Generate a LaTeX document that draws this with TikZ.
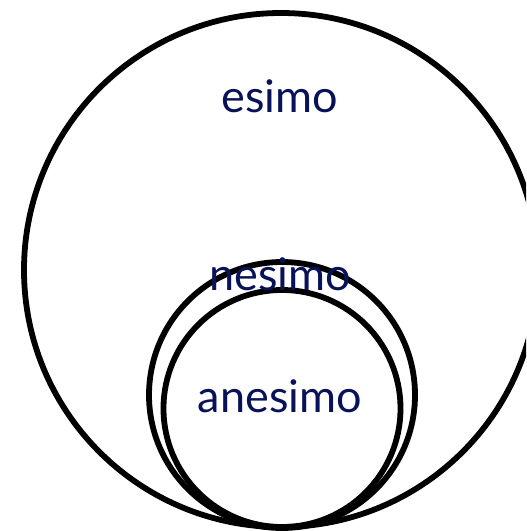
\documentclass[tikz,border=0pt]{standalone}
\usepackage{fontspec}
\setmainfont{Lato}
\definecolor{setnavy}{RGB}{8,18,88}
\begin{document}
\begin{tikzpicture}[x=0.5pt, y=-0.5pt,
    ring/.style={draw=black, line width=2.9pt},
    setlabel/.style={text=setnavy, font=\fontsize{22.5}{26}\selectfont, anchor=base, inner sep=0pt}]
    \useasboundingbox (0,0) rectangle (526,531);
    \clip (0,0) rectangle (526,531);

    % the three sets, all touching at the bottom
    \coordinate (E) at (281,270);
    \coordinate (N) at (282,395);
    \coordinate (A) at (282,408.5);

    \draw[ring] (E) circle[radius=257];
    \draw[ring] (N) circle[radius=133];
    \draw[ring] (A) circle[radius=118.5];

    \node[setlabel] (esimo) at (280,112) {esimo};
    \node[setlabel] (nesimo) at (280,290) {nesimo};
    \node[setlabel] (anesimo) at (280,412) {anesimo};
\end{tikzpicture}
\end{document}
